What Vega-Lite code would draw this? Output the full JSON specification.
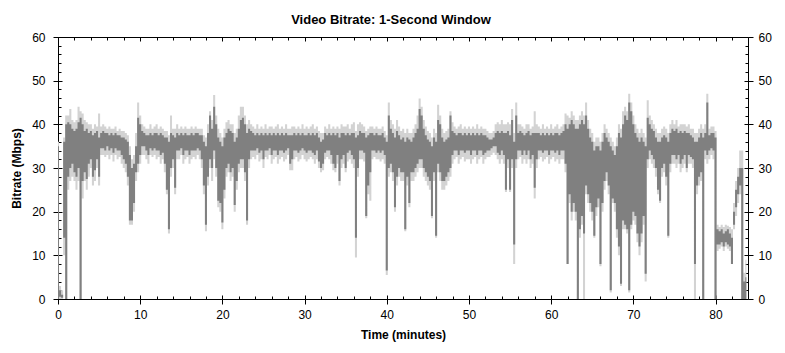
{
  "$schema": "https://vega.github.io/schema/vega-lite/v6.json",
  "width": 690,
  "height": 262,
  "autosize": "none",
  "padding": {"left": 58, "top": 37, "right": 37, "bottom": 54},
  "background": "#ffffff",
  "title": {"text": "Video Bitrate: 1-Second Window", "font": "Liberation Sans", "fontSize": 13, "fontWeight": "bold", "color": "#000", "anchor": "middle", "frame": "bounds", "baseline": "alphabetic", "offset": -6},
  "config": {
    "view": {"stroke": "#000", "strokeWidth": 1},
    "axis": {"domain": false, "grid": false, "tickColor": "#000", "tickWidth": 1, "labelColor": "#000", "labelFont": "Liberation Sans", "labelFontSize": 12, "titleFont": "Liberation Sans", "titleFontSize": 12, "titleFontWeight": "bold", "titleColor": "#000", "labelFlush": false, "labelOverlap": false}
  },
  "data": {"values": [
    {"t":0,"a":0,"b":0,"c":35,"d":36},
    {"t":0.25,"a":0,"b":0.5,"c":2,"d":3},
    {"t":0.5,"a":0,"b":0.3,"c":1,"d":2},
    {"t":0.75,"a":10,"b":14,"c":36,"d":37},
    {"t":1,"a":0,"b":0,"c":40,"d":42},
    {"t":1.25,"a":25,"b":28,"c":40.5,"d":42},
    {"t":1.5,"a":27,"b":30,"c":40,"d":43.5},
    {"t":1.75,"a":28,"b":31,"c":39,"d":41},
    {"t":2,"a":27,"b":29,"c":38.5,"d":40.5},
    {"t":2.25,"a":25,"b":28,"c":39,"d":41},
    {"t":2.5,"a":27,"b":30,"c":40.5,"d":44},
    {"t":2.75,"a":0,"b":0,"c":41.5,"d":43},
    {"t":3,"a":23,"b":27,"c":40,"d":42.5},
    {"t":3.25,"a":27,"b":29,"c":38.5,"d":41},
    {"t":3.5,"a":25,"b":27.5,"c":39,"d":40.5},
    {"t":3.75,"a":28,"b":31,"c":38,"d":40},
    {"t":4,"a":30,"b":32,"c":38.5,"d":40},
    {"t":4.25,"a":26,"b":28,"c":37.5,"d":39},
    {"t":4.5,"a":27,"b":29.5,"c":38,"d":40},
    {"t":4.75,"a":30,"b":32,"c":38.5,"d":39.5},
    {"t":5,"a":26,"b":28,"c":37,"d":42.5},
    {"t":5.25,"a":33,"b":34.5,"c":38,"d":39.5},
    {"t":5.5,"a":33,"b":34.5,"c":38.5,"d":40},
    {"t":5.75,"a":32.5,"b":34,"c":38,"d":39.5},
    {"t":6,"a":33,"b":35,"c":38,"d":39},
    {"t":6.25,"a":32,"b":34,"c":37.5,"d":39.5},
    {"t":6.5,"a":33,"b":34.5,"c":38,"d":39},
    {"t":6.75,"a":31.5,"b":33.5,"c":37.5,"d":39},
    {"t":7,"a":33,"b":34.5,"c":38,"d":39.5},
    {"t":7.25,"a":32,"b":34,"c":37.5,"d":38.5},
    {"t":7.5,"a":32.5,"b":34,"c":37.5,"d":39},
    {"t":7.75,"a":31,"b":33,"c":37,"d":38.5},
    {"t":8,"a":30,"b":32,"c":37,"d":38.5},
    {"t":8.25,"a":29,"b":31,"c":36.5,"d":38},
    {"t":8.5,"a":26,"b":28,"c":36,"d":37.5},
    {"t":8.75,"a":17,"b":18,"c":33,"d":35},
    {"t":9,"a":17,"b":18,"c":30,"d":32},
    {"t":9.25,"a":20,"b":22,"c":31,"d":33},
    {"t":9.5,"a":27,"b":29,"c":35,"d":38},
    {"t":9.75,"a":29,"b":31,"c":41.5,"d":45},
    {"t":10,"a":31,"b":33,"c":40,"d":42},
    {"t":10.25,"a":33,"b":35,"c":38.5,"d":40},
    {"t":10.5,"a":33,"b":35,"c":38,"d":39.5},
    {"t":10.75,"a":32,"b":34,"c":37.5,"d":39},
    {"t":11,"a":31,"b":33,"c":37.5,"d":39},
    {"t":11.25,"a":33,"b":34.5,"c":38,"d":40},
    {"t":11.5,"a":32.5,"b":34,"c":37.5,"d":39},
    {"t":11.75,"a":33,"b":34.5,"c":38,"d":39.5},
    {"t":12,"a":32,"b":34,"c":38,"d":40},
    {"t":12.25,"a":32.5,"b":34,"c":37.5,"d":39},
    {"t":12.5,"a":31,"b":33,"c":38,"d":39.5},
    {"t":12.75,"a":32,"b":33.5,"c":37.5,"d":39},
    {"t":13,"a":29,"b":31,"c":37,"d":38.5},
    {"t":13.25,"a":24,"b":25,"c":37,"d":38.5},
    {"t":13.5,"a":15,"b":16,"c":36,"d":37.5},
    {"t":13.75,"a":28,"b":30,"c":38,"d":42},
    {"t":14,"a":30,"b":32,"c":37.5,"d":39},
    {"t":14.25,"a":24,"b":25.5,"c":37,"d":39},
    {"t":14.5,"a":32,"b":34,"c":38,"d":40},
    {"t":14.75,"a":32,"b":34,"c":37.5,"d":39},
    {"t":15,"a":33,"b":34.5,"c":38,"d":39.5},
    {"t":15.25,"a":31,"b":33,"c":37.5,"d":39},
    {"t":15.5,"a":32,"b":34,"c":38,"d":39.5},
    {"t":15.75,"a":32.5,"b":34,"c":37.5,"d":39},
    {"t":16,"a":31,"b":33,"c":37.5,"d":39},
    {"t":16.25,"a":32,"b":34,"c":38,"d":39.5},
    {"t":16.5,"a":32.5,"b":34,"c":37.5,"d":39},
    {"t":16.75,"a":32,"b":34,"c":38,"d":39.5},
    {"t":17,"a":33,"b":34.5,"c":38,"d":39},
    {"t":17.25,"a":32,"b":34,"c":37.5,"d":39},
    {"t":17.5,"a":30,"b":32,"c":37.5,"d":39},
    {"t":17.75,"a":24,"b":26,"c":36,"d":37.5},
    {"t":18,"a":15.5,"b":17,"c":35,"d":37},
    {"t":18.25,"a":26,"b":28,"c":38,"d":40},
    {"t":18.5,"a":30,"b":32,"c":42,"d":43},
    {"t":18.75,"a":27,"b":30,"c":39,"d":41},
    {"t":19,"a":32,"b":34,"c":44,"d":46.7},
    {"t":19.25,"a":28,"b":30,"c":40,"d":42},
    {"t":19.5,"a":21,"b":22.5,"c":37,"d":39},
    {"t":19.75,"a":20,"b":22,"c":36,"d":38},
    {"t":20,"a":16,"b":17.5,"c":35,"d":37},
    {"t":20.25,"a":23,"b":25,"c":37,"d":39},
    {"t":20.5,"a":28,"b":30,"c":38,"d":40.5},
    {"t":20.75,"a":29,"b":31,"c":39,"d":41},
    {"t":21,"a":27,"b":29,"c":38.5,"d":40},
    {"t":21.25,"a":28,"b":30,"c":38,"d":40},
    {"t":21.5,"a":20,"b":21.5,"c":36,"d":38},
    {"t":21.75,"a":25,"b":27,"c":37,"d":39},
    {"t":22,"a":29,"b":31,"c":39,"d":42},
    {"t":22.25,"a":30,"b":32,"c":41,"d":44},
    {"t":22.5,"a":30,"b":32,"c":41.5,"d":44},
    {"t":22.75,"a":27,"b":29,"c":40,"d":42},
    {"t":23,"a":17,"b":18,"c":38,"d":40},
    {"t":23.25,"a":30,"b":32,"c":39,"d":41},
    {"t":23.5,"a":32,"b":34,"c":38.5,"d":40},
    {"t":23.75,"a":32.5,"b":34,"c":38,"d":39.5},
    {"t":24,"a":32,"b":34,"c":37.5,"d":39},
    {"t":24.25,"a":33,"b":34.5,"c":38,"d":40},
    {"t":24.5,"a":31.5,"b":33.5,"c":37.5,"d":39},
    {"t":24.75,"a":32,"b":34,"c":38,"d":39.5},
    {"t":25,"a":30,"b":32,"c":37.5,"d":39},
    {"t":25.25,"a":32.5,"b":34,"c":38,"d":40},
    {"t":25.5,"a":32,"b":34,"c":37.5,"d":39},
    {"t":25.75,"a":33,"b":34.5,"c":38,"d":39.5},
    {"t":26,"a":31,"b":33,"c":37.5,"d":39.5},
    {"t":26.25,"a":32,"b":34,"c":38,"d":39},
    {"t":26.5,"a":32.5,"b":34,"c":37.5,"d":39.5},
    {"t":26.75,"a":31,"b":33,"c":38,"d":40},
    {"t":27,"a":32,"b":34,"c":37.5,"d":39},
    {"t":27.25,"a":32.5,"b":34,"c":38,"d":39.5},
    {"t":27.5,"a":31.5,"b":33.5,"c":37.5,"d":39},
    {"t":27.75,"a":32,"b":34,"c":38,"d":40},
    {"t":28,"a":33,"b":34.5,"c":37.5,"d":39},
    {"t":28.25,"a":29.5,"b":31,"c":37.5,"d":39},
    {"t":28.5,"a":29.5,"b":32,"c":37.5,"d":39.5},
    {"t":28.75,"a":32,"b":34,"c":38,"d":39.5},
    {"t":29,"a":32.5,"b":34,"c":37.5,"d":39},
    {"t":29.25,"a":31.5,"b":33.5,"c":38,"d":39.5},
    {"t":29.5,"a":32,"b":34,"c":37.5,"d":39},
    {"t":29.75,"a":33,"b":34.5,"c":38,"d":40},
    {"t":30,"a":32,"b":34,"c":37.5,"d":39},
    {"t":30.25,"a":31.5,"b":33.5,"c":37.5,"d":39.5},
    {"t":30.5,"a":32,"b":34,"c":38,"d":39},
    {"t":30.75,"a":32.5,"b":34,"c":37.5,"d":39.5},
    {"t":31,"a":32,"b":33.5,"c":38,"d":40},
    {"t":31.25,"a":31,"b":33,"c":37.5,"d":39},
    {"t":31.5,"a":32,"b":34,"c":38,"d":39.5},
    {"t":31.75,"a":30,"b":31.5,"c":37,"d":38.5},
    {"t":32,"a":29,"b":30,"c":36,"d":38},
    {"t":32.25,"a":29.5,"b":31,"c":36.5,"d":38},
    {"t":32.5,"a":32,"b":33.5,"c":38,"d":39.5},
    {"t":32.75,"a":32.5,"b":34,"c":37.5,"d":39},
    {"t":33,"a":32,"b":34,"c":38,"d":40},
    {"t":33.25,"a":31,"b":33,"c":37.5,"d":39},
    {"t":33.5,"a":29.5,"b":31,"c":38,"d":39.5},
    {"t":33.75,"a":29,"b":30,"c":37.5,"d":39},
    {"t":34,"a":31,"b":33,"c":38,"d":39.5},
    {"t":34.25,"a":26,"b":27,"c":37,"d":39},
    {"t":34.5,"a":30,"b":32,"c":38,"d":40},
    {"t":34.75,"a":31,"b":33,"c":38,"d":39.5},
    {"t":35,"a":29,"b":30,"c":37.5,"d":39.5},
    {"t":35.25,"a":31.5,"b":33.5,"c":38,"d":40},
    {"t":35.5,"a":32,"b":34,"c":37.5,"d":39},
    {"t":35.75,"a":31,"b":33,"c":38,"d":40},
    {"t":36,"a":30,"b":32,"c":38,"d":40.5},
    {"t":36.25,"a":9.5,"b":14,"c":37,"d":38.5},
    {"t":36.5,"a":28,"b":30,"c":37.5,"d":40},
    {"t":36.75,"a":32,"b":34,"c":38.5,"d":40.5},
    {"t":37,"a":32,"b":34,"c":38,"d":40},
    {"t":37.25,"a":31.5,"b":33.5,"c":38,"d":39.5},
    {"t":37.5,"a":18.5,"b":19,"c":37,"d":38.5},
    {"t":37.75,"a":24,"b":26,"c":37.5,"d":39},
    {"t":38,"a":22.5,"b":29,"c":38,"d":39.5},
    {"t":38.25,"a":32,"b":34,"c":38,"d":39.5},
    {"t":38.5,"a":32.5,"b":34,"c":37.5,"d":39},
    {"t":38.75,"a":32,"b":33.5,"c":38,"d":39.5},
    {"t":39,"a":32,"b":34,"c":37.5,"d":39},
    {"t":39.25,"a":31.5,"b":33.5,"c":37.5,"d":39},
    {"t":39.5,"a":32,"b":34,"c":38,"d":39.5},
    {"t":39.75,"a":31,"b":33,"c":37,"d":38.5},
    {"t":40,"a":5.5,"b":6.5,"c":36,"d":37.5},
    {"t":40.25,"a":28,"b":30,"c":42,"d":45},
    {"t":40.5,"a":29,"b":31,"c":39,"d":41},
    {"t":40.75,"a":27,"b":29,"c":38,"d":40},
    {"t":41,"a":20,"b":21,"c":37,"d":39},
    {"t":41.25,"a":26,"b":28,"c":38.5,"d":41},
    {"t":41.5,"a":28,"b":30,"c":37.5,"d":39.5},
    {"t":41.75,"a":27,"b":29,"c":36.5,"d":38.5},
    {"t":42,"a":27,"b":29,"c":37,"d":39},
    {"t":42.25,"a":15.5,"b":16,"c":36,"d":38},
    {"t":42.5,"a":26,"b":28,"c":37,"d":39},
    {"t":42.75,"a":21,"b":22,"c":36.5,"d":38},
    {"t":43,"a":27,"b":29,"c":36,"d":38},
    {"t":43.25,"a":27,"b":29,"c":37,"d":39},
    {"t":43.5,"a":28,"b":30,"c":38,"d":40},
    {"t":43.75,"a":29,"b":31,"c":39,"d":42},
    {"t":44,"a":30,"b":32,"c":43.5,"d":45.9},
    {"t":44.25,"a":30,"b":32,"c":42,"d":44},
    {"t":44.5,"a":28,"b":30,"c":39,"d":41},
    {"t":44.75,"a":27,"b":29,"c":37.5,"d":39.5},
    {"t":45,"a":26,"b":28,"c":36.5,"d":38.5},
    {"t":45.25,"a":25,"b":27,"c":36,"d":38},
    {"t":45.5,"a":18.5,"b":19,"c":35,"d":37},
    {"t":45.75,"a":27,"b":29,"c":37,"d":39},
    {"t":46,"a":14,"b":14.5,"c":36,"d":38},
    {"t":46.25,"a":29,"b":31,"c":41,"d":44.5},
    {"t":46.5,"a":27,"b":29,"c":40,"d":42},
    {"t":46.75,"a":25,"b":27,"c":37,"d":39},
    {"t":47,"a":25,"b":27,"c":36,"d":38},
    {"t":47.25,"a":26,"b":28,"c":36.5,"d":38.5},
    {"t":47.5,"a":27,"b":29,"c":37,"d":39},
    {"t":47.75,"a":28,"b":30,"c":42,"d":43},
    {"t":48,"a":31,"b":33,"c":38.5,"d":40.5},
    {"t":48.25,"a":32,"b":34,"c":38,"d":39.5},
    {"t":48.5,"a":32.5,"b":34,"c":37.5,"d":39},
    {"t":48.75,"a":31,"b":33,"c":38,"d":39.5},
    {"t":49,"a":32,"b":34,"c":38,"d":40},
    {"t":49.25,"a":32.5,"b":34,"c":37.5,"d":39},
    {"t":49.5,"a":31.5,"b":33.5,"c":38,"d":39.5},
    {"t":49.75,"a":32,"b":34,"c":37.5,"d":39},
    {"t":50,"a":32,"b":34,"c":38,"d":39.5},
    {"t":50.25,"a":31,"b":33,"c":37.5,"d":39},
    {"t":50.5,"a":32,"b":34,"c":38,"d":39.5},
    {"t":50.75,"a":32.5,"b":34,"c":37.5,"d":39},
    {"t":51,"a":31,"b":33,"c":38,"d":40},
    {"t":51.25,"a":32,"b":34,"c":37.5,"d":39},
    {"t":51.5,"a":32.5,"b":34,"c":38,"d":39.5},
    {"t":51.75,"a":31,"b":33,"c":37.5,"d":39},
    {"t":52,"a":32,"b":33.5,"c":37.5,"d":39},
    {"t":52.25,"a":32.5,"b":34,"c":37,"d":38.5},
    {"t":52.5,"a":32.5,"b":34,"c":36.5,"d":38},
    {"t":52.75,"a":33,"b":34.5,"c":36.5,"d":38},
    {"t":53,"a":33.5,"b":35,"c":37,"d":38.5},
    {"t":53.25,"a":33,"b":35,"c":38,"d":40},
    {"t":53.5,"a":32,"b":33.5,"c":38.5,"d":40.5},
    {"t":53.75,"a":31,"b":33,"c":38,"d":40},
    {"t":54,"a":32,"b":34,"c":38.5,"d":41},
    {"t":54.25,"a":31,"b":33,"c":38,"d":40},
    {"t":54.5,"a":24.5,"b":25,"c":38,"d":40},
    {"t":54.75,"a":30,"b":32,"c":38.5,"d":40.5},
    {"t":55,"a":24.5,"b":25,"c":37.5,"d":40},
    {"t":55.25,"a":30,"b":32,"c":41,"d":43.5},
    {"t":55.5,"a":8,"b":12.5,"c":36,"d":38},
    {"t":55.75,"a":30,"b":32,"c":42,"d":45},
    {"t":56,"a":32,"b":34,"c":38,"d":40},
    {"t":56.25,"a":32.5,"b":34,"c":38.5,"d":40},
    {"t":56.5,"a":31,"b":33,"c":38,"d":39.5},
    {"t":56.75,"a":32,"b":34,"c":37.5,"d":39},
    {"t":57,"a":31,"b":33,"c":38,"d":40},
    {"t":57.25,"a":32,"b":34,"c":38.5,"d":40},
    {"t":57.5,"a":30,"b":32,"c":37.5,"d":39},
    {"t":57.75,"a":31,"b":33,"c":38,"d":39.5},
    {"t":58,"a":23,"b":25.5,"c":38,"d":43},
    {"t":58.25,"a":30,"b":32,"c":38,"d":40},
    {"t":58.5,"a":32,"b":34,"c":38,"d":39.5},
    {"t":58.75,"a":32.5,"b":34,"c":37.5,"d":39},
    {"t":59,"a":31.5,"b":33.5,"c":38,"d":40},
    {"t":59.25,"a":32,"b":34,"c":37.5,"d":39},
    {"t":59.5,"a":32.5,"b":34,"c":38,"d":39.5},
    {"t":59.75,"a":31,"b":33,"c":37.5,"d":39},
    {"t":60,"a":32,"b":34,"c":38,"d":40},
    {"t":60.25,"a":32.5,"b":34,"c":37.5,"d":39},
    {"t":60.5,"a":31.5,"b":33.5,"c":38,"d":39.5},
    {"t":60.75,"a":32,"b":34,"c":38,"d":40},
    {"t":61,"a":31,"b":33,"c":37.5,"d":39},
    {"t":61.25,"a":32,"b":34,"c":38,"d":39.5},
    {"t":61.5,"a":32,"b":34,"c":38.5,"d":40},
    {"t":61.75,"a":29,"b":31,"c":40,"d":42.5},
    {"t":62,"a":8,"b":8,"c":39,"d":42},
    {"t":62.25,"a":22,"b":24,"c":40,"d":41.5},
    {"t":62.5,"a":18,"b":20,"c":41,"d":43},
    {"t":62.75,"a":20,"b":22,"c":40,"d":42},
    {"t":63,"a":18,"b":20,"c":39,"d":41},
    {"t":63.25,"a":0,"b":0,"c":39,"d":41},
    {"t":63.5,"a":14,"b":16,"c":40,"d":42},
    {"t":63.75,"a":17,"b":19,"c":41,"d":43},
    {"t":64,"a":0,"b":15,"c":40,"d":42},
    {"t":64.25,"a":24,"b":26,"c":42,"d":45},
    {"t":64.5,"a":22,"b":24,"c":39,"d":41},
    {"t":64.75,"a":20,"b":22,"c":37,"d":39},
    {"t":65,"a":18,"b":20,"c":36,"d":38},
    {"t":65.25,"a":14,"b":14.5,"c":34,"d":36},
    {"t":65.5,"a":19,"b":21,"c":35,"d":37},
    {"t":65.75,"a":21,"b":23,"c":35,"d":37},
    {"t":66,"a":7.5,"b":8,"c":34,"d":36},
    {"t":66.25,"a":20,"b":22,"c":36,"d":38},
    {"t":66.5,"a":25,"b":27,"c":38,"d":40},
    {"t":66.75,"a":27,"b":29,"c":37,"d":39},
    {"t":67,"a":24,"b":26,"c":36,"d":38},
    {"t":67.25,"a":1.5,"b":2,"c":35,"d":37},
    {"t":67.5,"a":22,"b":23,"c":34,"d":36},
    {"t":67.75,"a":20,"b":22,"c":33,"d":35},
    {"t":68,"a":14,"b":16,"c":35,"d":37},
    {"t":68.25,"a":10,"b":12,"c":38,"d":40},
    {"t":68.5,"a":3,"b":3.5,"c":37,"d":39},
    {"t":68.75,"a":16,"b":18,"c":40,"d":43},
    {"t":69,"a":16,"b":17,"c":42,"d":44},
    {"t":69.25,"a":15,"b":16,"c":41,"d":43},
    {"t":69.5,"a":1.5,"b":2,"c":45,"d":47},
    {"t":69.75,"a":16,"b":17,"c":43,"d":45},
    {"t":70,"a":18,"b":20,"c":40,"d":42},
    {"t":70.25,"a":17,"b":19,"c":38,"d":40},
    {"t":70.5,"a":13,"b":15,"c":37,"d":39},
    {"t":70.75,"a":10,"b":12,"c":36,"d":38},
    {"t":71,"a":13,"b":15,"c":37,"d":39},
    {"t":71.25,"a":17,"b":19,"c":36,"d":38},
    {"t":71.5,"a":4,"b":5.8,"c":35,"d":37},
    {"t":71.75,"a":30,"b":32,"c":41.5,"d":45.5},
    {"t":72,"a":32,"b":34,"c":40,"d":42},
    {"t":72.25,"a":31,"b":33,"c":39,"d":41},
    {"t":72.5,"a":30,"b":32,"c":38.5,"d":40},
    {"t":72.75,"a":28,"b":30,"c":37,"d":39},
    {"t":73,"a":24,"b":25,"c":36,"d":38},
    {"t":73.25,"a":22,"b":22.5,"c":36,"d":38},
    {"t":73.5,"a":28,"b":30,"c":37,"d":39},
    {"t":73.75,"a":29,"b":31,"c":37.5,"d":39.5},
    {"t":74,"a":26,"b":28,"c":37,"d":39},
    {"t":74.25,"a":14,"b":14.5,"c":36,"d":38},
    {"t":74.5,"a":29,"b":31,"c":38,"d":40},
    {"t":74.75,"a":31,"b":33,"c":39,"d":41},
    {"t":75,"a":31,"b":33,"c":38.5,"d":40},
    {"t":75.25,"a":30,"b":32,"c":39,"d":41},
    {"t":75.5,"a":31,"b":33,"c":38,"d":39.5},
    {"t":75.75,"a":29,"b":31,"c":38.5,"d":40},
    {"t":76,"a":30,"b":32,"c":38,"d":40},
    {"t":76.25,"a":31,"b":33,"c":38.5,"d":40},
    {"t":76.5,"a":29,"b":30,"c":38,"d":39.5},
    {"t":76.75,"a":31,"b":33,"c":38,"d":40},
    {"t":77,"a":31,"b":32.5,"c":37.5,"d":39},
    {"t":77.25,"a":30,"b":32,"c":37,"d":39},
    {"t":77.5,"a":0,"b":8,"c":36,"d":38},
    {"t":77.75,"a":24,"b":26,"c":36,"d":38},
    {"t":78,"a":26,"b":28,"c":37,"d":39},
    {"t":78.25,"a":27,"b":29,"c":38,"d":40},
    {"t":78.5,"a":0,"b":0,"c":37,"d":39},
    {"t":78.75,"a":32,"b":34,"c":38,"d":40},
    {"t":79,"a":31,"b":33,"c":45,"d":47},
    {"t":79.25,"a":32,"b":34,"c":37.5,"d":39},
    {"t":79.5,"a":33,"b":34.5,"c":38,"d":39.5},
    {"t":79.75,"a":32,"b":34,"c":38,"d":39.5},
    {"t":80,"a":0,"b":0,"c":37,"d":38.5},
    {"t":80.25,"a":11,"b":12.5,"c":16,"d":17},
    {"t":80.5,"a":11.5,"b":12.5,"c":15.5,"d":16.5},
    {"t":80.75,"a":12,"b":13,"c":16,"d":17},
    {"t":81,"a":11,"b":12,"c":15,"d":16.5},
    {"t":81.25,"a":12,"b":13,"c":15.5,"d":17},
    {"t":81.5,"a":11.5,"b":12.5,"c":16,"d":16.8},
    {"t":81.75,"a":11,"b":12,"c":15,"d":16.5},
    {"t":82,"a":8,"b":8,"c":14,"d":16},
    {"t":82.25,"a":16,"b":17,"c":20,"d":22},
    {"t":82.5,"a":19,"b":21,"c":25,"d":27},
    {"t":82.75,"a":22,"b":24,"c":28,"d":30},
    {"t":83,"a":24,"b":26,"c":30,"d":34},
    {"t":83.25,"a":0,"b":0,"c":30,"d":34},
    {"t":83.5,"a":0,"b":0,"c":4,"d":6},
    {"t":83.75,"a":0,"b":0,"c":5,"d":9}
  ]},
  "layer": [
    {
      "mark": {"type": "area", "color": "#d3d3d3", "interpolate": "step", "clip": true},
      "encoding": {
        "x": {"field": "t", "type": "quantitative", "scale": {"domain": [0, 83.95], "nice": false, "zero": false},
              "axis": {"orient": "bottom", "values": [0,10,20,30,40,50,60,70,80], "tickSize": 5, "labelPadding": 5, "title": "Time (minutes)", "titlePadding": 9}},
        "y": {"field": "a", "type": "quantitative", "scale": {"domain": [0, 60], "nice": false},
              "axis": {"orient": "left", "values": [0,10,20,30,40,50,60], "tickSize": 5, "labelPadding": 8, "title": "Bitrate (Mbps)", "titlePadding": 8}},
        "y2": {"field": "d"}
      }
    },
    {
      "mark": {"type": "area", "color": "#808080", "interpolate": "step", "clip": true},
      "encoding": {
        "x": {"field": "t", "type": "quantitative", "scale": {"domain": [0, 83.95], "nice": false, "zero": false},
              "axis": {"orient": "top", "values": [0,10,20,30,40,50,60,70,80], "tickSize": -4, "labels": false, "title": null}},
        "y": {"field": "b", "type": "quantitative", "scale": {"domain": [0, 60], "nice": false},
              "axis": {"orient": "right", "values": [0,10,20,30,40,50,60], "tickSize": 5, "labelPadding": 5, "title": null}},
        "y2": {"field": "c"}
      }
    },
    {
      "mark": {"type": "point", "opacity": 0, "clip": true},
      "encoding": {
        "x": {"field": "t", "type": "quantitative", "scale": {"domain": [0, 83.95], "nice": false, "zero": false},
              "axis": {"orient": "bottom", "values": [2,4,6,8,12,14,16,18,22,24,26,28,32,34,36,38,42,44,46,48,52,54,56,58,62,64,66,68,72,74,76,78,82], "tickSize": -3, "labels": false, "title": null}},
        "y": {"field": "c", "type": "quantitative", "scale": {"domain": [0, 60], "nice": false},
              "axis": {"orient": "left", "values": [2,4,6,8,12,14,16,18,22,24,26,28,32,34,36,38,42,44,46,48,52,54,56,58], "tickSize": -3, "labels": false, "title": null}}
      }
    },
    {
      "mark": {"type": "point", "opacity": 0, "clip": true},
      "encoding": {
        "x": {"field": "t", "type": "quantitative", "scale": {"domain": [0, 83.95], "nice": false, "zero": false},
              "axis": {"orient": "top", "values": [2,4,6,8,12,14,16,18,22,24,26,28,32,34,36,38,42,44,46,48,52,54,56,58,62,64,66,68,72,74,76,78,82], "tickSize": -3, "labels": false, "title": null}},
        "y": {"field": "c", "type": "quantitative", "scale": {"domain": [0, 60], "nice": false},
              "axis": {"orient": "right", "values": [2,4,6,8,12,14,16,18,22,24,26,28,32,34,36,38,42,44,46,48,52,54,56,58], "tickSize": -3, "labels": false, "title": null}}
      }
    },
    {
      "mark": {"type": "point", "opacity": 0, "clip": true},
      "encoding": {
        "x": {"field": "t", "type": "quantitative", "scale": {"domain": [0, 83.95], "nice": false, "zero": false},
              "axis": {"orient": "bottom", "values": [0,10,20,30,40,50,60,70,80], "tickSize": -4, "labels": false, "title": null}},
        "y": {"field": "c", "type": "quantitative", "scale": {"domain": [0, 60], "nice": false},
              "axis": {"orient": "left", "values": [0,10,20,30,40,50,60], "tickSize": -4, "labels": false, "title": null}}
      }
    },
    {
      "mark": {"type": "point", "opacity": 0, "clip": true},
      "encoding": {
        "x": {"field": "t", "type": "quantitative", "scale": {"domain": [0, 83.95], "nice": false, "zero": false}, "axis": null},
        "y": {"field": "c", "type": "quantitative", "scale": {"domain": [0, 60], "nice": false},
              "axis": {"orient": "right", "values": [0,10,20,30,40,50,60], "tickSize": -4, "labels": false, "title": null}}
      }
    }
  ],
  "resolve": {"axis": {"x": "independent", "y": "independent"}}
}
